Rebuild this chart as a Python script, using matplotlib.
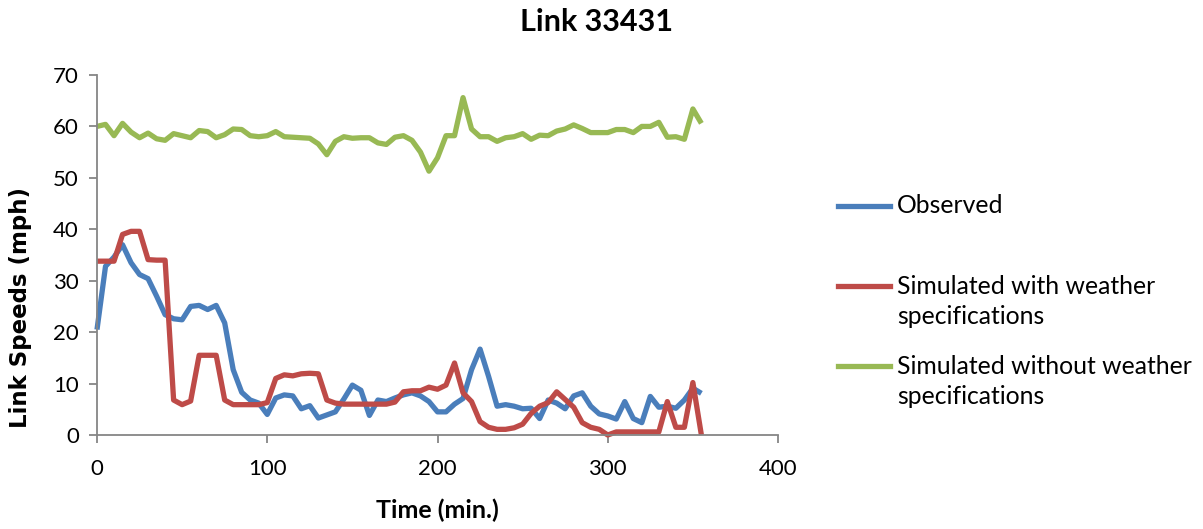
import matplotlib
matplotlib.use("Agg")
import matplotlib.pyplot as plt
from matplotlib.lines import Line2D

plt.rcParams['font.family'] = ['Lato', 'DejaVu Sans']

# Time axis: 5-minute intervals
time_min = list(range(0, 360, 5))

observed = [
    20.5, 32.8, 34.6, 37.0, 33.5, 31.2, 30.4, 27.0, 23.4, 22.6,
    22.4, 25.0, 25.2, 24.4, 25.2, 21.8, 12.7, 8.3, 6.8, 6.2,
    4.0, 7.2, 7.8, 7.6, 5.1, 5.7, 3.3, 3.9, 4.5, 7.0,
    9.7, 8.7, 3.8, 6.8, 6.5, 7.2, 7.8, 8.2, 7.6, 6.5,
    4.5, 4.5, 6.0, 7.1, 12.7, 16.7, 11.4, 5.6, 5.9, 5.6,
    5.1, 5.2, 3.2, 6.8, 6.2, 5.1, 7.6, 8.2, 5.6, 4.1,
    3.7, 3.1, 6.5, 3.2, 2.4, 7.5, 5.4, 5.6, 5.2, 6.8,
    9.1, 8.1,
]

sim_weather = [
    33.8, 33.8, 33.8, 39.0, 39.6, 39.6, 34.1, 34.0, 34.0, 6.8,
    5.9, 6.6, 15.5, 15.5, 15.5, 6.8, 5.9, 5.9, 5.9, 5.9,
    6.3, 11.0, 11.7, 11.5, 11.9, 12.0, 11.9, 6.8, 6.2, 6.0,
    6.0, 6.0, 6.0, 6.0, 6.0, 6.4, 8.4, 8.6, 8.6, 9.3,
    8.9, 9.7, 14.0, 8.2, 6.5, 2.6, 1.5, 1.1, 1.1, 1.4,
    2.1, 4.2, 5.6, 6.3, 8.4, 6.9, 5.4, 2.4, 1.5, 1.1,
    0.0, 0.6, 0.6, 0.6, 0.6, 0.6, 0.6, 6.5, 1.5, 1.5,
    10.2, 0.0,
]

sim_no_weather = [
    60.0, 60.4, 58.2, 60.6, 58.9, 57.8, 58.7, 57.6, 57.3, 58.6,
    58.2, 57.8, 59.2, 59.0, 57.8, 58.4, 59.5, 59.4, 58.2, 58.0,
    58.2, 59.0, 58.0, 57.9, 57.8, 57.7, 56.6, 54.5, 57.1, 58.0,
    57.7, 57.8, 57.8, 56.8, 56.5, 57.9, 58.2, 57.3, 55.0, 51.3,
    53.9, 58.2, 58.2, 65.6, 59.5, 58.0, 58.0, 57.1, 57.8, 58.0,
    58.6, 57.5, 58.3, 58.2, 59.1, 59.5, 60.3, 59.6, 58.8, 58.8,
    58.8, 59.4, 59.4, 58.8, 60.0, 60.0, 60.8, 57.9, 58.0, 57.5,
    63.4, 60.6,
]

series_labels = [
    "Observed",
    "Simulated with weather\nspecifications",
    "Simulated without weather\nspecifications",
]
series_colors = ["#4A7EBB", "#BE4B48", "#98B954"]

x_ticks = [0, 100, 200, 300, 400]
y_ticks = [0, 10, 20, 30, 40, 50, 60, 70]

W, H = 1203, 529
fig = plt.figure(figsize=(W / 100, H / 100), dpi=100)
ax = fig.add_axes([97 / W, 1 - 435 / H, (778 - 97) / W, (435 - 75) / H])

axis_gray = "#868686"
lw = 3.8
series = [observed, sim_weather, sim_no_weather]
for vals, col in zip(series, series_colors):
    ax.plot(time_min, vals, color=col, lw=lw, solid_joinstyle="round",
            solid_capstyle="butt", clip_on=False)

ax.set_xlim(0, 400)
ax.set_ylim(0, 70)
ax.set_xticks(x_ticks)
ax.set_yticks(y_ticks)
for s in ["top", "right"]:
    ax.spines[s].set_visible(False)
for s in ["left", "bottom"]:
    ax.spines[s].set_color(axis_gray)
    ax.spines[s].set_linewidth(1.3)
ax.tick_params(axis="both", direction="out", length=6, width=1.3,
               color=axis_gray, labelsize=16, labelcolor="black")
ax.tick_params(axis="x", pad=11)
ax.tick_params(axis="y", pad=7)

fig.text(437 / W, 1 - 510 / H, "Time (min.)", fontsize=18,
         fontweight="bold", ha="center", va="center")
fig.text(21 / W, 1 - 307 / H, "Link Speeds (mph)", rotation=90,
         family="DejaVu Sans", fontsize=16.5, fontweight="bold",
         ha="center", va="center")

fig.text(596 / W, 1 - 22 / H, "Link 33431", fontsize=22, fontweight="bold",
         ha="center", va="center")

# Legend drawn beside the plot area
legend_rows = [206, 286, 366]
line_step = 30
for lab, col, yrow in zip(series_labels, series_colors, legend_rows):
    yf = 1 - yrow / H
    fig.add_artist(Line2D([838 / W, 890 / W], [yf, yf], color=col, lw=lw,
                          transform=fig.transFigure))
    for i, part in enumerate(lab.split("\n")):
        fig.text(897 / W, 1 - (yrow + i * line_step) / H, part, fontsize=17.8,
                 ha="left", va="center")

fig.savefig("out.png", dpi=100)
